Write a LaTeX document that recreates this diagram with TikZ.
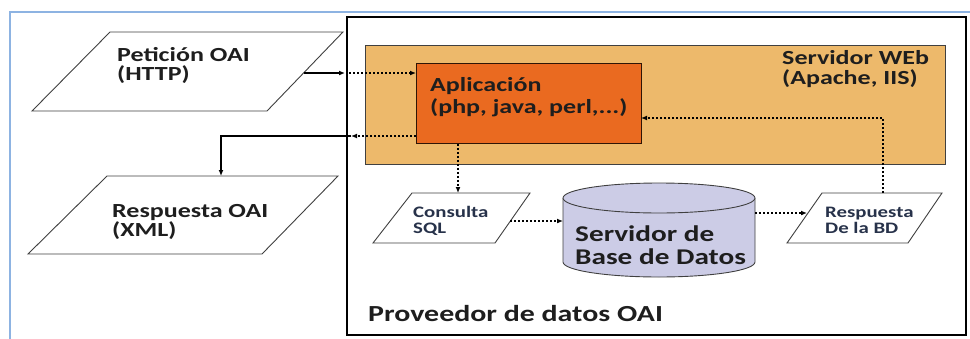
\documentclass[tikz,border=0pt]{standalone}
\usepackage{fontspec}
\setmainfont{Carlito}[FakeStretch=1.3]
\usetikzlibrary{arrows.meta}

\definecolor{frameblue}{HTML}{8DB3E2}
\definecolor{webfill}{HTML}{EDB96B}
\definecolor{appfill}{HTML}{EA6A20}
\definecolor{dbfill}{HTML}{CCCCE6}
\definecolor{edge}{HTML}{404040}
\definecolor{ink}{HTML}{1E1E1E}
\definecolor{inkblue}{HTML}{27324A}

\tikzset{
  lbl/.style={anchor=base west, inner sep=0pt, text=ink},
  big/.style={font=\fontsize{20}{24}\selectfont\bfseries},
  small/.style={font=\fontsize{16}{19}\selectfont\bfseries, text=inkblue},
  dbtext/.style={font=\fontsize{22.5}{26}\selectfont\bfseries},
  prov/.style={font=\fontsize{23}{27}\selectfont\bfseries},
  para/.style={draw=edge, line width=0.9pt, fill=white},
  tip/.style={-{Latex[length=6pt,width=5pt]}},
  solidarr/.style={tip, draw=black, line width=1.2pt},
  dotarr/.style={tip, draw=black, line width=1.5pt, dash pattern=on 2pt off 2pt},
  webbox/.style={draw=edge, line width=0.9pt, fill=webfill, inner sep=0pt},
  appbox/.style={draw=black!80!appfill, line width=0.9pt, fill=appfill, inner sep=0pt}
}

\begin{document}
\begin{tikzpicture}[x=1pt,y=-1pt]
\useasboundingbox (0,0) rectangle (970,338);

% outer frame and data provider box
\draw[frameblue, line width=2pt] (10,12) rectangle (990,360);
\draw[black, line width=2pt] (347,17) rectangle (966,335);

% web server and application
\node[webbox, anchor=north west, minimum width=580pt, minimum height=119pt] (web) at (365,45) {};
\node[appbox, anchor=north west, minimum width=225pt, minimum height=80pt] (app) at (416,63) {};

% input / output documents
\path[para] (110,32) -- (343,32) -- (267,111) -- (32,111) -- cycle;
\path[para] (107,176) -- (338,176) -- (262,254) -- (28,254) -- cycle;
\path[para] (412,193) -- (530,193) -- (495,243) -- (373,243) -- cycle;
\path[para] (822,193) -- (942,193) -- (908,243) -- (787,243) -- cycle;

% database cylinder
\fill[dbfill] (563,198) -- (563,262) arc[start angle=180, end angle=360, x radius=96pt, y radius=15pt] -- (755,198) -- cycle;
\draw[edge, line width=0.9pt] (563,198) -- (563,262) arc[start angle=180, end angle=360, x radius=96pt, y radius=15pt] -- (755,198);
\draw[edge, line width=0.9pt, fill=dbfill] (659,198) ellipse [x radius=96pt, y radius=15pt];

% labels
\node[lbl, big] (pet1) at (117,61) {Petición OAI};
\node[lbl, big] (pet2) at (117,80) {(HTTP)};
\node[lbl, big] (res1) at (112,217) {Respuesta OAI};
\node[lbl, big] (res2) at (112,236) {(XML)};
\node[lbl, big] (app1) at (430,91) {Aplicación};
\node[lbl, big] (app2) at (430,113) {(php, java, perl,...)};
\node[lbl, big] (web1) at (782,64) {Servidor WEb};
\node[lbl, big] (web2) at (782,84) {(Apache, IIS)};
\node[lbl, small] (sql1) at (413,217) {Consulta};
\node[lbl, small] (sql2) at (413,233) {SQL};
\node[lbl, small] (bd1) at (825,217) {Respuesta};
\node[lbl, small] (bd2) at (825,233) {De la BD};
\node[lbl, dbtext] (db1) at (575,241) {Servidor de};
\node[lbl, dbtext] (db2) at (575,264) {Base de Datos};
\node[lbl, prov] (prov) at (368,321) {Proveedor de datos OAI};

% connection points on the slanted and curved outlines
\coordinate (petR) at (304,73);
\coordinate (edgeIn) at (345,73);
\coordinate (inA) at (349,73);
\coordinate (outA) at (351,136);
\coordinate (resT) at (221,176);
\coordinate (sqlT) at (458,193);
\coordinate (sqlR) at (510,221);
\coordinate (dbL) at (563,221);
\coordinate (dbR) at (755,213);
\coordinate (bdL) at (807,213);
\coordinate (bdT) at (883,193);
\coordinate (appR) at (641,118);

% request path
\draw[solidarr] (petR) -- (edgeIn);
\draw[dotarr] (inA) -- (app.west |- inA);
% response path
\draw[dotarr] (app.west |- outA) -- (outA);
\draw[solidarr] (outA) -| (resT);
% query and result path
\draw[dotarr] (app.south -| sqlT) -- (sqlT);
\draw[dotarr] (sqlR) -- (dbL);
\draw[dotarr] (dbR) -- (bdL);
\draw[dotarr] (bdT) |- (appR);
\end{tikzpicture}
\end{document}
